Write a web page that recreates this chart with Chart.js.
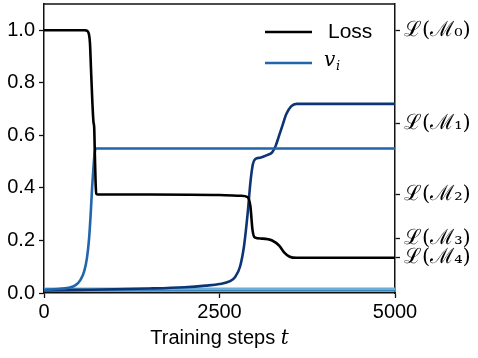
<!DOCTYPE html>
<html>
<head>
<meta charset="utf-8">
<script src="https://cdn.jsdelivr.net/npm/chart.js@4"></script>
<style>
  body { margin: 0; background: #fff; }
</style>
</head>
<body>
<canvas id="loss_chart" width="478" height="358"></canvas>
<script>
// values
const lossSteps  = [0, 580, 620, 640, 655, 670, 690, 705, 715, 725, 735, 745, 770, 1500, 2500, 2800, 2900, 2940, 2970, 3000, 3100, 3250, 3350, 3420, 3500, 3600, 5000];
const lossValues = [1.0, 1.0, 0.997, 0.985, 0.95, 0.85, 0.72, 0.65, 0.63, 0.52, 0.42, 0.378, 0.375, 0.375, 0.373, 0.37, 0.365, 0.33, 0.24, 0.212, 0.207, 0.2, 0.18, 0.155, 0.138, 0.134, 0.134];

const v1Steps  = [0, 200, 350, 450, 520, 570, 610, 640, 665, 685, 705, 725, 745, 5000];
const v1Values = [0.012, 0.015, 0.02, 0.03, 0.05, 0.08, 0.13, 0.2, 0.3, 0.4, 0.48, 0.54, 0.55, 0.55];

const v2Steps  = [0, 500, 1000, 1500, 2000, 2300, 2500, 2650, 2720, 2792, 2850, 2900, 2940, 2975, 3010, 3080, 3180, 3250, 3300, 3350, 3400, 3450, 3520, 3600, 5000];
const v2Values = [0.01, 0.012, 0.014, 0.017, 0.022, 0.028, 0.034, 0.045, 0.06, 0.1, 0.18, 0.3, 0.42, 0.49, 0.51, 0.515, 0.525, 0.535, 0.56, 0.6, 0.64, 0.68, 0.71, 0.72, 0.72];

const v3Steps  = [0, 5000];
const v3Values = [0.016, 0.016];
const v4Steps  = [0, 5000];
const v4Values = [0.01, 0.01];

const leftTicks  = [0, 0.2, 0.4, 0.6, 0.8, 1.0];
const xTicks     = [0, 2500, 5000];
const rightTicks = [0.134, 0.207, 0.375, 0.644, 1.0];
const rightLabels = ["ℒ(ℳ₄)", "ℒ(ℳ₃)", "ℒ(ℳ₂)", "ℒ(ℳ₁)", "ℒ(ℳ₀)"];

function pts(xs, ys) {
  return xs.map((x, i) => ({ x: x, y: ys[i] }));
}

const sansFont = "'Liberation Sans', Arial, sans-serif";
const mathFont = "'DejaVu Serif', serif";

const frame = {
  id: "frame",
  afterDraw(chart) {
    const ctx = chart.ctx;
    const a = chart.chartArea;
    ctx.save();
    ctx.strokeStyle = "#111";
    ctx.lineWidth = 1.5;
    ctx.beginPath();
    ctx.moveTo(a.left, a.top);
    ctx.lineTo(a.right, a.top);
    ctx.stroke();

    // legend
    const items = [
      { color: "#000000", text: "Loss", y: 32 },
      { color: "#2166ac", text: "v", sub: "i", y: 63 }
    ];
    items.forEach(it => {
      ctx.strokeStyle = it.color;
      ctx.lineWidth = 2.6;
      ctx.beginPath();
      ctx.moveTo(265, it.y);
      ctx.lineTo(312, it.y);
      ctx.stroke();
      ctx.fillStyle = "#000";
      ctx.textBaseline = "middle";
      if (it.sub) {
        ctx.font = "italic 20px " + mathFont;
        ctx.fillText(it.text, 324, it.y - 2);
        ctx.font = "italic 13px " + mathFont;
        ctx.fillText(it.sub, 336, it.y + 4);
      } else {
        ctx.font = "21px " + sansFont;
        ctx.fillText(it.text, 328, it.y);
      }
    });

    // x axis title
    ctx.fillStyle = "#000";
    ctx.textBaseline = "alphabetic";
    ctx.font = "20px " + sansFont;
    const t1 = "Training steps ";
    const w1 = ctx.measureText(t1).width;
    ctx.font = "italic 20px " + mathFont;
    const w2 = ctx.measureText("t").width;
    const x0 = (a.left + a.right) / 2 - (w1 + w2) / 2;
    ctx.font = "20px " + sansFont;
    ctx.fillText(t1, x0, 344);
    ctx.font = "italic 20px " + mathFont;
    ctx.fillText("t", x0 + w1, 344);
    ctx.restore();
  }
};

const axisGrid = { drawOnChartArea: false, drawTicks: true, tickLength: 5, color: "#111", tickWidth: 1.3 };
const axisBorder = { color: "#111", width: 1.5 };

function noPad(s) {
  s.paddingTop = 0; s.paddingBottom = 0; s.paddingLeft = 0; s.paddingRight = 0;
}

new Chart(document.getElementById("loss_chart"), {
  type: "line",
  data: {
    datasets: [
      { label: "Loss", data: pts(lossSteps, lossValues), borderColor: "#000000", yAxisID: "y" },
      { label: "v1", data: pts(v1Steps, v1Values), borderColor: "#2166ac", yAxisID: "y" },
      { label: "v2", data: pts(v2Steps, v2Values), borderColor: "#0d3474", yAxisID: "y" },
      { label: "v3", data: pts(v3Steps, v3Values), borderColor: "#6aaed6", yAxisID: "y" },
      { label: "v4", data: pts(v4Steps, v4Values), borderColor: "#3a86c0", yAxisID: "y" }
    ]
  },
  options: {
    responsive: false,
    animation: false,
    events: [],
    layout: { padding: { top: 4, left: 0, right: 0, bottom: 0 } },
    elements: {
      point: { radius: 0 },
      line: { borderWidth: 2.6, cubicInterpolationMode: "monotone", fill: false }
    },
    plugins: { legend: { display: false }, tooltip: { enabled: false } },
    scales: {
      x: {
        type: "linear",
        min: 0, max: 5000,
        afterBuildTicks: s => { s.ticks = xTicks.map(v => ({ value: v })); },
        afterFit: s => { s.height = 65; noPad(s); },
        ticks: { color: "#000", font: { family: sansFont, size: 20 }, padding: 2, maxRotation: 0, callback: v => String(v) },
        grid: axisGrid, border: axisBorder
      },
      y: {
        position: "left",
        min: 0, max: 1.1,
        afterBuildTicks: s => { s.ticks = leftTicks.map(v => ({ value: v })); },
        afterFit: s => { s.width = 44; noPad(s); },
        ticks: { color: "#000", font: { family: sansFont, size: 20 }, padding: 4, callback: v => v.toFixed(1) },
        grid: axisGrid, border: axisBorder
      },
      y2: {
        position: "right",
        min: 0, max: 1.1,
        afterBuildTicks: s => { s.ticks = rightTicks.map(v => ({ value: v })); },
        afterFit: s => { s.width = 83; noPad(s); },
        ticks: {
          color: "#000", font: { family: mathFont, size: 21 }, padding: 4, autoSkip: false,
          callback: (v, i) => rightLabels[i]
        },
        grid: axisGrid, border: axisBorder
      }
    }
  },
  plugins: [frame]
});
</script>
</body>
</html>
